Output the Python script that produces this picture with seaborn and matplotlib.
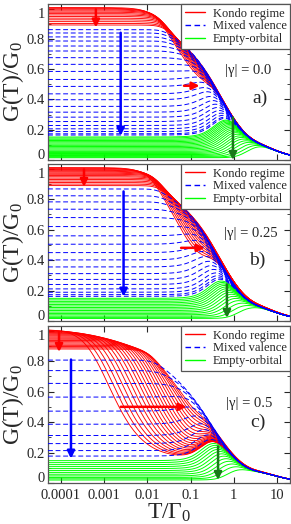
import numpy as np
import pandas as pd
import matplotlib
matplotlib.use("Agg")
import matplotlib.pyplot as plt
import matplotlib.transforms as mtransforms
from matplotlib.lines import Line2D
import seaborn as sns

# ---------------- data ----------------
T_RANGE = (5e-5, 20.0)
PANEL_TAGS = ["a)", "b)", "c)"]
GAMMA_TEXT = ["|γ| = 0.0", "|γ| = 0.25", "|γ| = 0.5"]

# width of the bare level (units of Gamma_0) and upper (Hubbard) level
LEVEL_WIDTH = [0.54, 0.40, 0.27]
HUB_E, HUB_W, HUB_A = 10.0, 1.5, 0.3

# high-temperature envelope of each panel: weights and scales of its parts, low-T release scale
ENV_WEIGHT = [[0.30, 0.57], [0.30, 0.57], [0.35, 0.50]]
ENV_SCALE = [[0.15, 0.75], [0.13, 0.70], [0.06, 0.55]]
ENV_RELEASE = [0.02, 0.015, 0.01]

# Kondo regime: low-T plateau and Kondo scale of each curve, background plateau
kondo_g_a = [1.0, 0.995, 0.99, 0.984, 0.977, 0.969, 0.96, 0.951, 0.941, 0.93, 0.919, 0.907, 0.895, 0.885]
kondo_W_a = [0.08, 0.09, 0.1, 0.11, 0.12, 0.135, 0.15, 0.165, 0.185, 0.205, 0.23, 0.26, 0.3, 0.34]
kondo_g_b = [1.0, 0.996, 0.992, 0.987, 0.982, 0.976, 0.97, 0.963, 0.956, 0.948, 0.94, 0.931, 0.922, 0.912, 0.902, 0.892, 0.882]
kondo_W_b = [0.06, 0.068, 0.077, 0.087, 0.098, 0.11, 0.124, 0.14, 0.158, 0.178, 0.2, 0.225, 0.25, 0.28, 0.31, 0.345, 0.38]
kondo_g_c = [1.0, 0.997, 0.994, 0.99, 0.986, 0.981, 0.976, 0.97, 0.964, 0.958, 0.951, 0.944, 0.937, 0.929,
             0.921, 0.913, 0.905, 0.897, 0.889, 0.881, 0.873]
kondo_W_c = [0.0016, 0.0021, 0.0027, 0.0035, 0.0045, 0.0057, 0.0072, 0.009, 0.011, 0.0135, 0.0165, 0.02,
             0.024, 0.029, 0.035, 0.042, 0.05, 0.06, 0.07, 0.082, 0.095]
kondo_bg = [0.30, 0.20, 0.15]

# Mixed valence: low-T plateaus
mixed_g_a = [0.854, 0.832, 0.806, 0.779, 0.746, 0.713, 0.669, 0.625, 0.578, 0.525, 0.479, 0.43,
             0.391, 0.347, 0.309, 0.276, 0.247, 0.221, 0.199, 0.181, 0.166, 0.158]
mixed_g_b = [0.86, 0.815, 0.775, 0.727, 0.672, 0.613, 0.552, 0.497, 0.442, 0.394, 0.348, 0.304,
             0.266, 0.233, 0.204, 0.182, 0.166, 0.155]
mixed_g_c = [0.80, 0.731, 0.647, 0.557, 0.465, 0.379, 0.305, 0.252, 0.206, 0.17]

# Empty orbital: low-T plateaus
empty_g_a = [0.145, 0.138, 0.13, 0.122, 0.114, 0.106, 0.098, 0.09, 0.082, 0.074, 0.066, 0.058,
             0.05, 0.043, 0.036, 0.029, 0.023, 0.017, 0.012, 0.008]
empty_g_b = [0.142, 0.132, 0.122, 0.112, 0.102, 0.092, 0.082, 0.072, 0.062, 0.052, 0.043, 0.034, 0.025, 0.017, 0.01]
empty_g_c = [0.14, 0.127, 0.114, 0.101, 0.088, 0.075, 0.063, 0.051, 0.04, 0.03, 0.021, 0.013]

# arrows: (colour, T_start, G_start, T_end, G_end)
arrows_a = [("red", 6.4e-4, 0.995, 6.4e-4, 0.875), ("blue", 2.4e-3, 0.84, 2.4e-3, 0.16),
            ("red", 0.07, 0.49, 0.16, 0.49), ("darkgreen", 0.95, 0.28, 0.95, 0.0)]
arrows_b = [("red", 3.4e-4, 0.995, 3.4e-4, 0.88), ("blue", 2.8e-3, 0.85, 2.8e-3, 0.16),
            ("red", 0.06, 0.48, 0.21, 0.48), ("darkgreen", 0.69, 0.24, 0.69, 0.02)]
arrows_c = [("red", 9e-5, 0.99, 9e-5, 0.86), ("blue", 1.7e-4, 0.81, 1.7e-4, 0.16),
            ("red", 2.4e-3, 0.5, 0.08, 0.5), ("darkgreen", 0.43, 0.24, 0.43, 0.02)]

# ---------------- model for the curves ----------------
T = np.logspace(np.log10(T_RANGE[0]), np.log10(T_RANGE[1]), 260)
SOFT = 8.0


def trigamma(z):
    z = np.asarray(z, dtype=complex)
    s = np.zeros_like(z)
    for k in range(10):
        s += 1.0 / (z + k) ** 2
    y = z + 10
    s += 1 / y + 1 / (2 * y**2) + 1 / (6 * y**3) - 1 / (30 * y**5) + 1 / (42 * y**7) - 1 / (30 * y**9)
    return s


def lor_avg(e, g, amp=1.0):
    """thermal average of a Lorentzian transmission"""
    a = g / (2 * np.pi * T)
    return amp * np.real(a * trigamma(0.5 + a + 1j * e / (2 * np.pi * T)))


def hub():
    return lor_avg(HUB_E, HUB_W, HUB_A)


def envelope(p):
    (c1, c2), (w1, w2) = ENV_WEIGHT[p], ENV_SCALE[p]
    base = c1 * lor_avg(0.0, w1) + c2 * lor_avg(0.0, w2) + hub()
    return base * np.sqrt(1.0 + (ENV_RELEASE[p] / T) ** 2)


def softmin(g, env):
    return (g ** -SOFT + env ** -SOFT) ** (-1.0 / SOFT)


def level(g0, gam):
    e = gam * np.sqrt(1.0 / g0 - 1.0)
    return lor_avg(e, gam) + hub()


def kondo(g0, W, gbg, gam):
    return level(gbg, gam) + (g0 - gbg) * lor_avg(0.0, W)


def build(panel):
    gam = LEVEL_WIDTH[panel]
    env = envelope(panel)
    kg = [kondo_g_a, kondo_g_b, kondo_g_c][panel]
    kw = [kondo_W_a, kondo_W_b, kondo_W_c][panel]
    mg = [mixed_g_a, mixed_g_b, mixed_g_c][panel]
    eg = [empty_g_a, empty_g_b, empty_g_c][panel]
    rows = []
    for i, g0 in enumerate(eg):
        rows.append(pd.DataFrame({"T": T, "G": softmin(level(g0, gam), env),
                                  "family": "Empty-orbital", "curve": f"e{i}"}))
    for i, (g0, W) in enumerate(zip(kg, kw)):
        rows.append(pd.DataFrame({"T": T, "G": softmin(kondo(g0, W, kondo_bg[panel], gam), env),
                                  "family": "Kondo regime", "curve": f"k{i}"}))
    for i, g0 in enumerate(mg):
        rows.append(pd.DataFrame({"T": T, "G": softmin(level(g0, gam), env),
                                  "family": "Mixed valence", "curve": f"m{i}"}))
    return pd.concat(rows, ignore_index=True)


# ---------------- figure ----------------
sns.set_style("ticks")
plt.rcParams["font.family"] = ["Liberation Serif", "DejaVu Serif"]
plt.rcParams["mathtext.fontset"] = "custom"
plt.rcParams["mathtext.rm"] = "Liberation Serif"
plt.rcParams["mathtext.it"] = "Liberation Serif:italic"

COLORS = {"Kondo regime": "#ff0000", "Mixed valence": "#0000ff", "Empty-orbital": "#00ff00"}
ARROW_COLORS = {"red": "#ff0000", "blue": "#0000ff", "darkgreen": "#1a7a1a"}

fig = plt.figure(figsize=(2.91, 5.24), dpi=100)
boxes = [[0.165, 0.6947, 0.832, 0.2977], [0.165, 0.3874, 0.832, 0.2996], [0.165, 0.0782, 0.832, 0.2996]]
all_arrows = [arrows_a, arrows_b, arrows_c]
text_pos = [(2.1, 0.59, 4.0, 0.41), (2.5, 0.575, 3.4, 0.40), (2.2, 0.52, 3.6, 0.40)]

for p in range(3):
    ax = fig.add_axes(boxes[p])
    df = build(p)
    for fam, z, lw in [("Empty-orbital", 1, 0.7), ("Kondo regime", 2, 0.65), ("Mixed valence", 3, 0.7)]:
        sub = df[df.family == fam]
        sns.lineplot(data=sub, x="T", y="G", units="curve", estimator=None, color=COLORS[fam],
                     lw=lw, ax=ax, legend=False, zorder=z)
    for ln in ax.lines:
        if matplotlib.colors.to_hex(ln.get_color()) == "#0000ff":
            ln.set_dashes((5, 2.8))
    for col, t0, g0, t1, g1 in all_arrows[p]:
        ax.annotate("", xy=(t1, g1), xytext=(t0, g0),
                    arrowprops=dict(arrowstyle="-|>", color=ARROW_COLORS[col], lw=1.8,
                                    mutation_scale=11, shrinkA=0, shrinkB=0), zorder=6)
    ax.set_xscale("log")
    ax.set_xlim(*T_RANGE)
    ax.set_ylim(0, 1.03)
    ax.set_yticks([0, 0.2, 0.4, 0.6, 0.8, 1.0])
    ax.set_yticklabels(["0", "0.2", "0.4", "0.6", "0.8", "1"])
    ax.set_yticks(np.arange(0.1, 1.0, 0.2), minor=True)
    ax.set_xticks([1e-4, 1e-3, 1e-2, 1e-1, 1, 10])
    ax.tick_params(which="both", direction="in", top=True, right=True, labelsize=10.5, pad=2)
    ax.tick_params(axis="x", which="major", pad=4)
    ax.tick_params(which="major", length=4, width=0.8)
    ax.tick_params(which="minor", length=2, width=0.6)
    for s in ax.spines.values():
        s.set_color("#555555")
        s.set_linewidth(0.9)
    ax.set_ylabel("G(T)/G$_0$", fontsize=17, labelpad=1)
    if p < 2:
        ax.set_xlabel("")
        ax.tick_params(labelbottom=False)
    else:
        ax.set_xticklabels(["0.0001", "0.001", "0.01", "0.1", "1", "10"])
        ax.set_xlabel("T/Γ$_0$", fontsize=17, labelpad=0)
    # small nudges so the end labels of stacked panels do not collide
    ylabels = ax.get_yticklabels()
    ylabels[0].set_transform(ylabels[0].get_transform() +
                             mtransforms.ScaledTranslation(0, 4 / 72, fig.dpi_scale_trans))
    ylabels[-1].set_transform(ylabels[-1].get_transform() +
                              mtransforms.ScaledTranslation(0, -3 / 72, fig.dpi_scale_trans))
    tx, ty, px, py = text_pos[p]
    ax.text(tx, ty, GAMMA_TEXT[p], fontsize=10.5, ha="center", va="center", zorder=7)
    ax.text(px, py, PANEL_TAGS[p], fontsize=14, ha="center", va="center", zorder=7)
    handles = [Line2D([], [], color=COLORS["Kondo regime"], lw=1),
               Line2D([], [], color=COLORS["Mixed valence"], lw=1, dashes=(4, 2.5)),
               Line2D([], [], color=COLORS["Empty-orbital"], lw=1)]
    leg = ax.legend(handles, ["Kondo regime", "Mixed valence", "Empty-orbital"], loc="upper right",
                    fontsize=9, frameon=True, fancybox=False, edgecolor="#555555", framealpha=1,
                    borderaxespad=0.0, handlelength=1.6, handletextpad=0.6, labelspacing=0.05,
                    borderpad=0.3)
    leg.get_frame().set_linewidth(0.9)
    leg.set_zorder(10)

fig.savefig("out.png", dpi=100)
